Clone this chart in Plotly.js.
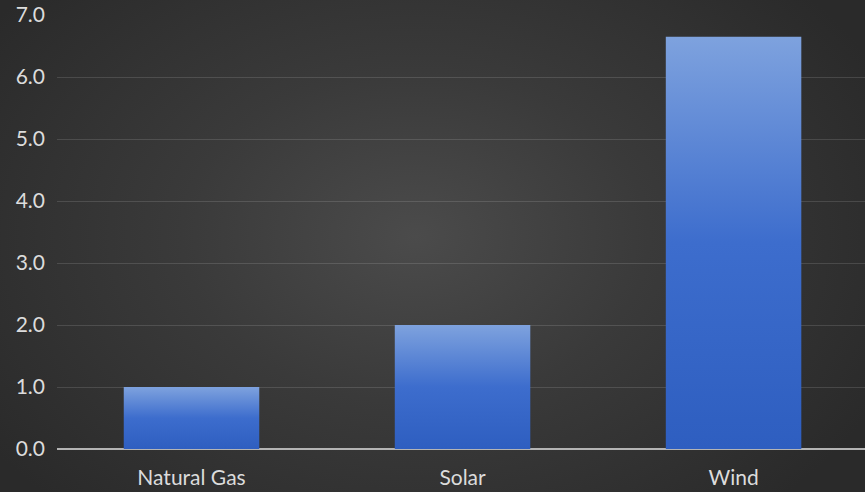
<!DOCTYPE html>
<html><head><meta charset="utf-8">
<script src="https://cdn.plot.ly/plotly-3.0.1.min.js"></script>
<style>
html,body{margin:0;padding:0;width:865px;height:492px;overflow:hidden;}
body{background:radial-gradient(ellipse 60% 75% at 48% 48%, #4b4b4b 0%, #3a3a3a 45%, #2a2a2a 100%);}
#chart{width:865px;height:492px;}
</style></head>
<body><div id="chart"></div>
<script>
const categories = ["Natural Gas", "Solar", "Wind"];
const values = [1.0, 2.0, 6.65];
const yTicks = [0, 1, 2, 3, 4, 5, 6, 7];
const yTickLabels = ["0.0", "1.0", "2.0", "3.0", "4.0", "5.0", "6.0", "7.0"];

const trace = {
  type: "bar", x: categories, y: values, width: 0.5,
  marker: {color: "#4472c4", line: {width: 0}},
  hoverinfo: "none"
};
const font = {family: "Lato, 'Noto Sans', sans-serif", size: 21, color: "#dcdcdc"};
const layout = {
  width: 865, height: 492,
  margin: {l: 57, r: 0, t: 15, b: 43},
  paper_bgcolor: "rgba(0,0,0,0)", plot_bgcolor: "rgba(0,0,0,0)",
  showlegend: false,
  font: font,
  xaxis: {range: [-0.4963, 2.485], showgrid: false, zeroline: false, showline: false,
          ticks: "", tickfont: font, ticklabelstandoff: 14, fixedrange: true},
  yaxis: {range: [0, 7], tickvals: yTicks, ticktext: yTickLabels, showgrid: true,
          gridcolor: "rgba(255,255,255,0.13)", gridwidth: 1,
          zeroline: true, zerolinecolor: "#b4b4b4", zerolinewidth: 2,
          showline: false, ticks: "", tickfont: font, ticklabelstandoff: 11, fixedrange: true}
};
Plotly.newPlot("chart", [trace], layout, {displayModeBar: false, staticPlot: true}).then(function(gd){
  const svg = gd.querySelector("svg.main-svg");
  const ns = "http://www.w3.org/2000/svg";
  let defs = svg.querySelector("defs");
  if (!defs) { defs = document.createElementNS(ns, "defs"); svg.insertBefore(defs, svg.firstChild); }
  const lg = document.createElementNS(ns, "linearGradient");
  lg.setAttribute("id", "barGrad");
  lg.setAttribute("x1", "0"); lg.setAttribute("y1", "0");
  lg.setAttribute("x2", "0"); lg.setAttribute("y2", "1");
  [["0", "#7ea2de"], ["0.5", "#3d6dcd"], ["1", "#2e5ec0"]].forEach(function(s){
    const st = document.createElementNS(ns, "stop");
    st.setAttribute("offset", s[0]); st.setAttribute("stop-color", s[1]);
    lg.appendChild(st);
  });
  defs.appendChild(lg);
  gd.querySelectorAll(".barlayer .point path").forEach(function(p){
    p.style.fill = "url(#barGrad)";
  });
});
</script></body></html>
